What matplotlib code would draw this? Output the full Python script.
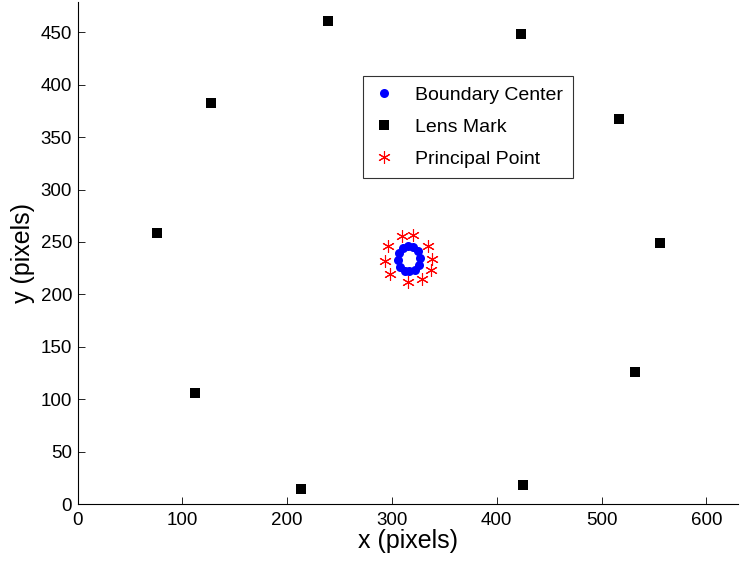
import matplotlib
matplotlib.use("Agg")
import matplotlib.pyplot as plt

plt.rcParams['font.family'] = ['Liberation Sans', 'DejaVu Sans']

# Boundary centers (blue dots)
bc_x = [310.7, 315.5, 320.3, 325.0, 326.6, 326.0, 321.9, 316.5, 312.3, 307.5, 305.9, 306.9]
bc_y = [244.2, 245.8, 245.2, 241.0, 234.7, 228.3, 223.5, 221.9, 222.8, 226.6, 233.0, 239.4]

# Lens marks (black squares)
lm_x = [239, 423, 127, 517, 76, 556, 112, 532, 213, 425]
lm_y = [461, 448, 383, 367, 259, 249, 106, 126, 14, 18]

# Principal points (red asterisks)
pp_x = [309.7, 319.7, 296.4, 334.6, 293.5, 338.4, 298.0, 336.9, 314.9, 328.6]
pp_y = [255.3, 256.9, 246.4, 245.8, 231.4, 233.7, 219.7, 223.5, 211.4, 214.6]

fig = plt.figure(figsize=(7.4, 5.66), dpi=100)
ax = fig.add_axes([0.105, 0.1095, 0.892, 0.887])

ax.plot(bc_x, bc_y, 'o', color='blue', markersize=6.5, markeredgewidth=0, label='Boundary Center')
ax.plot(lm_x, lm_y, 's', color='black', markersize=6.5, markeredgewidth=0, label='Lens Mark')
ax.plot(pp_x, pp_y, color='red', linestyle='none', markersize=9, markeredgewidth=0.8,
        marker=(6, 2, 0), label='Principal Point')

ax.set_xlim(0, 630)
ax.set_ylim(0, 479)
ax.set_xticks(range(0, 601, 100))
ax.set_yticks(range(0, 451, 50))
ax.tick_params(direction='in', labelsize=13.5, length=5, width=0.6)
ax.tick_params(axis='x', pad=6)
ax.tick_params(axis='y', pad=4)
ax.spines['top'].set_visible(False)
ax.spines['right'].set_visible(False)
ax.set_xlabel('x (pixels)', fontsize=18, labelpad=0)
ax.set_ylabel('y (pixels)', fontsize=18, labelpad=4)

leg = ax.legend(loc='upper left', bbox_to_anchor=(0.4315, 0.852), fontsize=14,
                frameon=True, fancybox=False, edgecolor='black', handlelength=1.2,
                handletextpad=1.0, borderpad=0.5, labelspacing=0.75, borderaxespad=0)
leg.get_frame().set_linewidth(0.8)

fig.savefig('out.png', dpi=100)
